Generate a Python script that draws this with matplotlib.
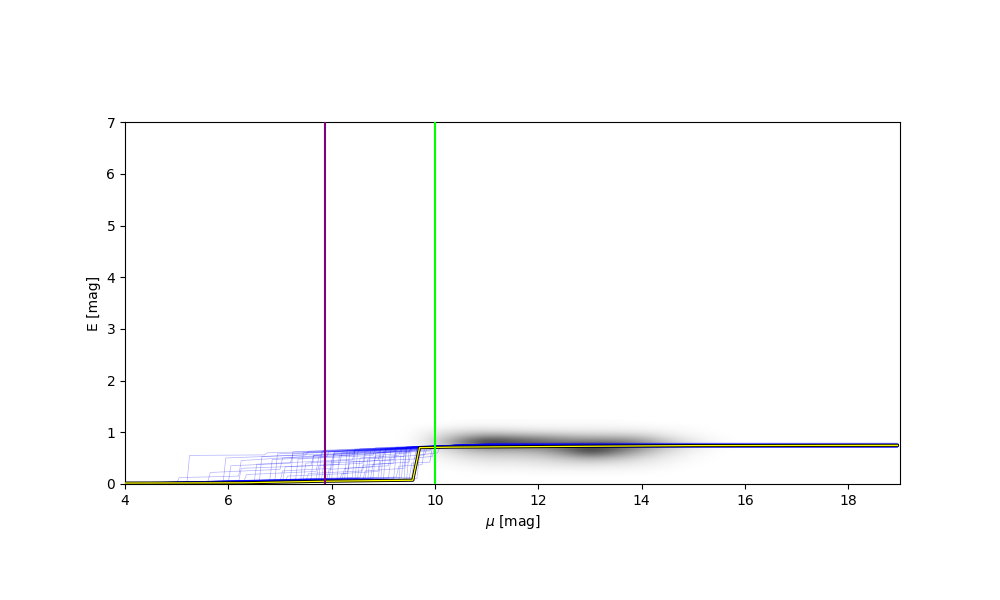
import numpy as np
import matplotlib
matplotlib.use("Agg")
import matplotlib.pyplot as plt

# --- data ---
# density of stars in (mu, E), coarse grid, rows from high E to low E
dens_mu = [9.5, 10.0, 10.5, 11.0, 11.5, 12.0, 12.5, 13.0, 13.5, 14.0, 14.5, 15.0, 15.5, 16.0]
dens_E = [1.2, 1.1, 1.0, 0.9, 0.8, 0.7, 0.6, 0.5, 0.4, 0.3, 0.2]
dens = [
    [0, 0.00, 0.01, 0.01, 0.01, 0.01, 0.01, 0.01, 0.01, 0.00, 0.00, 0.00, 0.00, 0],
    [0, 0.02, 0.05, 0.06, 0.05, 0.04, 0.04, 0.04, 0.04, 0.03, 0.02, 0.01, 0.00, 0],
    [0, 0.08, 0.16, 0.20, 0.16, 0.14, 0.12, 0.11, 0.11, 0.09, 0.05, 0.02, 0.00, 0],
    [0, 0.12, 0.33, 0.50, 0.45, 0.40, 0.34, 0.30, 0.30, 0.25, 0.12, 0.05, 0.01, 0],
    [0, 0.15, 0.50, 0.85, 0.72, 0.65, 0.55, 0.55, 0.55, 0.45, 0.24, 0.09, 0.02, 0],
    [0, 0.10, 0.30, 0.45, 0.45, 0.45, 0.60, 0.80, 0.65, 0.42, 0.20, 0.07, 0.01, 0],
    [0, 0.06, 0.17, 0.25, 0.25, 0.28, 0.42, 0.70, 0.48, 0.28, 0.12, 0.04, 0.00, 0],
    [0, 0.03, 0.10, 0.15, 0.15, 0.17, 0.24, 0.34, 0.26, 0.15, 0.07, 0.02, 0.00, 0],
    [0, 0.01, 0.05, 0.08, 0.08, 0.10, 0.13, 0.15, 0.12, 0.08, 0.04, 0.01, 0.00, 0],
    [0, 0.00, 0.02, 0.04, 0.04, 0.05, 0.06, 0.06, 0.05, 0.04, 0.02, 0.00, 0.00, 0],
    [0, 0.00, 0.00, 0.01, 0.01, 0.01, 0.01, 0.01, 0.01, 0.01, 0.00, 0.00, 0.00, 0],
]

# extinction profile samples (mu, E) knots before they merge into the common tail
samples = [
    [(4, 0.01), (5.2, 0.03), (5.25, 0.55), (6.7, 0.56), (6.75, 0.60), (9.0, 0.66), (10.2, 0.73)],
    [(4, 0.01), (6.0, 0.03), (6.05, 0.35), (7.2, 0.40), (7.25, 0.58), (9.3, 0.68), (10.3, 0.74)],
    [(4, 0.01), (6.6, 0.05), (6.65, 0.53), (8.5, 0.60), (8.55, 0.68), (10.4, 0.74)],
    [(4, 0.00), (7.0, 0.04), (7.05, 0.25), (8.0, 0.30), (8.05, 0.62), (9.5, 0.70), (10.5, 0.75)],
    [(4, 0.01), (7.3, 0.06), (7.35, 0.48), (8.8, 0.55), (8.85, 0.70), (10.3, 0.74)],
    [(4, 0.02), (7.5, 0.05), (7.55, 0.20), (8.6, 0.25), (8.65, 0.58), (9.7, 0.66), (9.75, 0.72), (10.5, 0.75)],
    [(4, 0.01), (7.6, 0.08), (7.65, 0.55), (9.4, 0.64), (9.45, 0.72), (10.4, 0.75)],
    [(4, 0.01), (7.8, 0.07), (7.85, 0.40), (8.9, 0.45), (8.95, 0.66), (10.3, 0.74)],
    [(4, 0.01), (8.0, 0.08), (8.05, 0.58), (9.6, 0.68), (10.3, 0.74)],
    [(4, 0.02), (8.2, 0.09), (8.25, 0.30), (9.1, 0.35), (9.15, 0.68), (10.4, 0.74)],
    [(4, 0.01), (8.3, 0.06), (8.35, 0.62), (9.8, 0.70), (10.4, 0.75)],
    [(4, 0.01), (8.5, 0.10), (8.55, 0.50), (9.3, 0.55), (9.35, 0.70), (10.3, 0.74)],
    [(4, 0.02), (8.7, 0.08), (8.75, 0.64), (10.0, 0.72), (10.6, 0.75)],
    [(4, 0.01), (8.9, 0.12), (8.95, 0.45), (9.6, 0.48), (9.65, 0.71), (10.4, 0.75)],
    [(4, 0.01), (9.0, 0.07), (9.05, 0.66), (10.3, 0.74)],
    [(4, 0.01), (9.2, 0.10), (9.25, 0.60), (9.9, 0.64), (9.95, 0.73), (10.5, 0.75)],
    [(4, 0.02), (9.4, 0.08), (9.45, 0.69), (10.4, 0.74)],
    [(4, 0.01), (9.6, 0.06), (9.65, 0.71), (10.4, 0.75)],
    [(4, 0.01), (6.3, 0.04), (6.35, 0.18), (7.7, 0.24), (7.75, 0.52), (8.9, 0.58), (8.95, 0.68), (10.3, 0.74)],
    [(4, 0.01), (6.8, 0.05), (6.85, 0.47), (7.9, 0.52), (7.95, 0.63), (9.6, 0.70), (10.3, 0.74)],
    [(4, 0.01), (7.1, 0.06), (7.15, 0.15), (8.3, 0.20), (8.35, 0.42), (9.2, 0.47), (9.25, 0.70), (10.4, 0.75)],
    [(4, 0.02), (7.4, 0.05), (7.45, 0.60), (9.0, 0.66), (10.3, 0.74)],
    [(4, 0.01), (7.7, 0.10), (7.75, 0.35), (8.6, 0.40), (8.65, 0.64), (10.3, 0.74)],
    [(4, 0.01), (8.1, 0.05), (8.15, 0.55), (9.5, 0.63), (9.55, 0.72), (10.4, 0.75)],
    [(4, 0.01), (8.4, 0.12), (8.45, 0.66), (10.2, 0.73)],
    [(4, 0.01), (8.6, 0.06), (8.65, 0.25), (9.4, 0.30), (9.45, 0.69), (10.4, 0.74)],
    [(4, 0.02), (8.8, 0.10), (8.85, 0.60), (9.7, 0.66), (9.75, 0.72), (10.5, 0.75)],
    [(4, 0.01), (9.1, 0.11), (9.15, 0.52), (9.8, 0.56), (9.85, 0.72), (10.5, 0.75)],
    [(4, 0.01), (9.3, 0.05), (9.35, 0.67), (10.3, 0.74)],
    [(4, 0.01), (9.5, 0.09), (9.55, 0.40), (9.9, 0.42), (9.95, 0.72), (10.5, 0.75)],
    [(4, 0.01), (5.6, 0.03), (5.65, 0.22), (7.0, 0.28), (7.05, 0.50), (8.4, 0.56), (8.45, 0.67), (10.3, 0.74)],
    [(4, 0.01), (6.5, 0.04), (6.55, 0.38), (8.0, 0.45), (8.05, 0.60), (9.7, 0.69), (10.3, 0.74)],
    [(4, 0.01), (7.2, 0.07), (7.25, 0.62), (9.6, 0.70), (10.3, 0.74)],
    [(4, 0.02), (7.9, 0.06), (7.95, 0.28), (8.8, 0.33), (8.85, 0.55), (9.5, 0.60), (9.55, 0.72), (10.4, 0.75)],
    [(4, 0.01), (8.25, 0.09), (8.3, 0.65), (10.0, 0.72), (10.5, 0.75)],
    [(4, 0.01), (8.75, 0.09), (8.8, 0.38), (9.5, 0.42), (9.55, 0.71), (10.4, 0.75)],
    [(4, 0.01), (9.35, 0.12), (9.4, 0.62), (9.9, 0.66), (9.95, 0.73), (10.5, 0.75)],
    [(4, 0.01), (9.65, 0.10), (9.7, 0.56), (10.05, 0.60), (10.1, 0.73), (10.6, 0.75)],
    [(4, 0.01), (5.0, 0.02), (5.05, 0.12), (6.2, 0.15), (6.25, 0.45), (7.8, 0.55), (7.85, 0.65), (10.3, 0.74)],
    [(4, 0.01), (6.2, 0.04), (6.25, 0.30), (7.6, 0.35), (7.65, 0.55), (9.2, 0.62), (9.25, 0.71), (10.4, 0.75)],
    [(4, 0.01), (6.9, 0.05), (6.95, 0.58), (9.5, 0.69), (10.3, 0.74)],
    [(4, 0.01), (7.45, 0.07), (7.5, 0.40), (8.4, 0.46), (8.45, 0.64), (10.3, 0.74)],
    [(4, 0.02), (7.75, 0.06), (7.8, 0.62), (9.7, 0.70), (10.4, 0.75)],
    [(4, 0.01), (7.95, 0.10), (8.0, 0.45), (9.0, 0.52), (9.05, 0.69), (10.3, 0.74)],
    [(4, 0.01), (8.15, 0.08), (8.2, 0.20), (8.9, 0.24), (8.95, 0.60), (9.6, 0.64), (9.65, 0.72), (10.4, 0.75)],
    [(4, 0.01), (8.45, 0.07), (8.5, 0.60), (9.9, 0.69), (10.4, 0.75)],
    [(4, 0.01), (8.65, 0.11), (8.7, 0.48), (9.4, 0.53), (9.45, 0.71), (10.4, 0.75)],
    [(4, 0.02), (8.95, 0.08), (9.0, 0.63), (9.8, 0.68), (10.4, 0.75)],
    [(4, 0.01), (9.25, 0.13), (9.3, 0.34), (9.75, 0.37), (9.8, 0.72), (10.5, 0.75)],
    [(4, 0.01), (9.45, 0.07), (9.5, 0.66), (10.3, 0.74)],
    [(4, 0.01), (5.9, 0.03), (5.95, 0.50), (7.5, 0.56), (7.55, 0.63), (9.8, 0.71), (10.4, 0.75)],
    [(4, 0.01), (7.05, 0.05), (7.1, 0.33), (8.15, 0.38), (8.2, 0.60), (9.6, 0.68), (10.3, 0.74)],
    [(4, 0.01), (8.55, 0.12), (8.6, 0.36), (9.2, 0.40), (9.25, 0.66), (10.3, 0.74)],
    [(4, 0.02), (9.55, 0.12), (9.6, 0.50), (9.95, 0.53), (10.0, 0.73), (10.5, 0.75)],
]
# every sample settles on a flat tail out to the last distance bin
tail_mu = [11.2, 18.95]
tail_E = [0.75, 0.76, 0.74, 0.75, 0.785, 0.75, 0.74, 0.76, 0.705, 0.75,
          0.75, 0.76, 0.74, 0.75, 0.785, 0.75, 0.74, 0.76, 0.705, 0.75,
          0.75, 0.76, 0.74, 0.75, 0.785, 0.75, 0.74, 0.76, 0.705, 0.75,
          0.75, 0.76, 0.74, 0.75, 0.785, 0.75, 0.74, 0.76, 0.705, 0.75,
          0.75, 0.76, 0.74, 0.75, 0.785, 0.75, 0.74, 0.76, 0.705, 0.75,
          0.75, 0.76, 0.74, 0.75]

# best-fit profile (black outline, yellow core)
best_mu = [4.0, 6.3, 7.85, 9.57, 9.70, 10.3, 15.0, 18.95]
best_E = [0.015, 0.02, 0.05, 0.07, 0.70, 0.71, 0.74, 0.745]

# vertical markers
mu_purple = 7.88
mu_green = 10.0

# --- plot ---
fig, ax = plt.subplots(figsize=(10, 6), dpi=100)

dmu = dens_mu[1] - dens_mu[0]
dE = dens_E[0] - dens_E[1]
ax.imshow(np.array(dens), cmap="gray_r", vmin=0, vmax=1, interpolation="bicubic",
          extent=[dens_mu[0] - dmu / 2, dens_mu[-1] + dmu / 2,
                  dens_E[-1] - dE / 2, dens_E[0] + dE / 2],
          zorder=0)

for s, e_end in zip(samples, tail_E):
    mus = [p[0] for p in s] + tail_mu
    es = [p[1] for p in s] + [e_end, e_end]
    ax.plot(mus, es, color="blue", lw=0.5, alpha=0.3, zorder=1)

ax.plot(best_mu, best_E, color="black", lw=2.2, zorder=2)
ax.plot(best_mu, best_E, color="yellow", lw=0.9, zorder=3)

ax.axvline(mu_purple, color="purple", lw=1.5, zorder=4)
ax.axvline(mu_green, color="lime", lw=1.5, zorder=4)

ax.set_xlim(4, 19)
ax.set_ylim(0, 7)
ax.set_aspect("equal")
ax.set_xlabel(r"$\mu$ [mag]")
ax.set_ylabel("E [mag]")

plt.savefig("out.png")
